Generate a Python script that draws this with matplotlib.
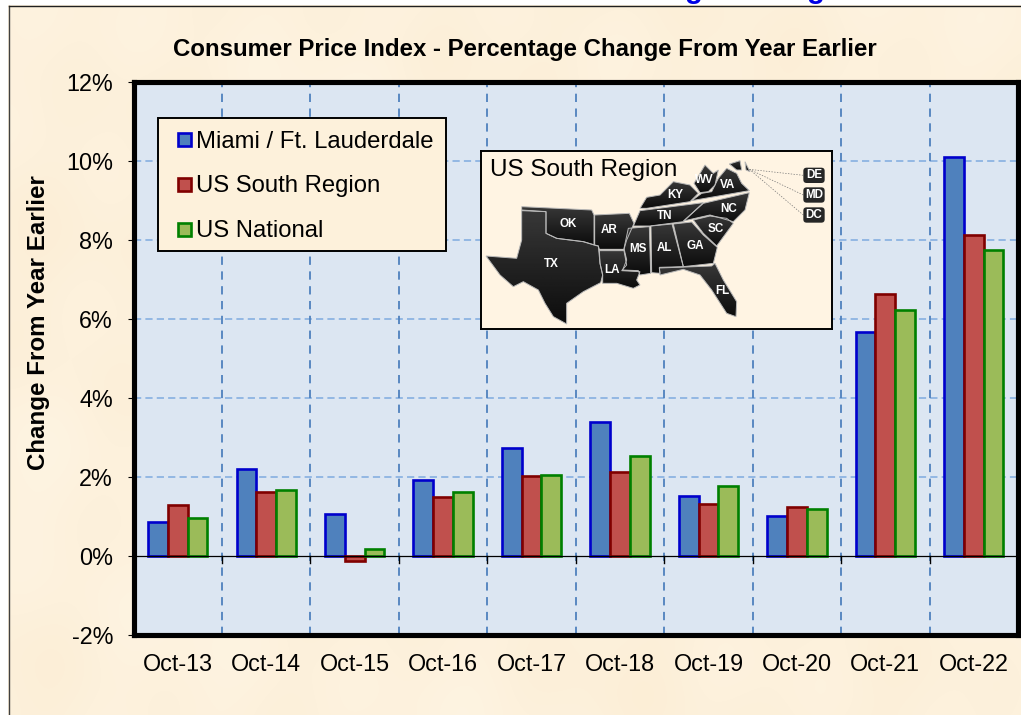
import numpy as np
import matplotlib
matplotlib.use("Agg")
import matplotlib.pyplot as plt
from matplotlib.patches import Polygon, Patch, FancyBboxPatch, Rectangle
from matplotlib.legend_handler import HandlerPatch

plt.rcParams['font.family'] = ['Liberation Sans', 'DejaVu Sans']

categories = ['Oct-13', 'Oct-14', 'Oct-15', 'Oct-16', 'Oct-17', 'Oct-18', 'Oct-19', 'Oct-20', 'Oct-21', 'Oct-22']
miami = [0.85, 2.2, 1.07, 1.93, 2.73, 3.4, 1.52, 1.02, 5.68, 10.1]
south = [1.3, 1.62, -0.12, 1.5, 2.02, 2.13, 1.32, 1.25, 6.63, 8.12]
national = [0.96, 1.66, 0.17, 1.63, 2.04, 2.52, 1.76, 1.18, 6.22, 7.75]
series_names = ['Miami / Ft. Lauderdale', 'US South Region', 'US National']
y_ticks = [-2, 0, 2, 4, 6, 8, 10, 12]
title_text = 'Consumer Price Index - Percentage Change From Year Earlier'
y_title = 'Change From Year Earlier'
map_title = 'US South Region'

W, H = 1021, 715
fig = plt.figure(figsize=(W / 100, H / 100), dpi=100, facecolor='white')

# parchment page background
yy, xx = np.mgrid[0:H, 0:W]
tone = (np.sin(xx / 47.0 + 1.0) * np.sin(yy / 61.0) + 0.7 * np.sin(xx / 19.0 + yy / 83.0)
        + 0.6 * np.sin(yy / 23.0 - xx / 71.0 + 2.0) + 0.8 * np.sin(xx / 131.0 - yy / 97.0)) / 3.0
page = np.dstack([253 + 1.0 * tone, 241 + 3 * tone, 220 + 6 * tone]) / 255.0
page = np.clip(page, 0, 1)
page[:5, :, :] = 1
page[:, :8, :] = 1
bg = fig.add_axes([0, 0, 1, 1], zorder=0)
bg.imshow(page, extent=(0, W, H, 0), aspect='auto', interpolation='bilinear')
bg.plot([8.5, 8.5], [5.5, H], color='#404040', lw=1.0)
bg.plot([8.5, W], [5.5, 5.5], color='#202020', lw=1.0)
bg.set_xlim(0, W)
bg.set_ylim(H, 0)
bg.axis('off')
# descenders of the heading that is cut off by the top of the picture
for gx in (694, 816):
    bg.text(gx, -2, 'g', color='#0000E6', fontsize=21, fontweight='bold', ha='center',
            va='baseline', clip_on=True)

L, R, T, B = 133.6, 1018.0, 82.0, 635.0
ax = fig.add_axes([L / W, 1 - B / H, (R - L) / W, (B - T) / H], zorder=2, facecolor='#DCE6F2')
x = np.arange(len(categories))
bw = 0.2235
styles = [('#4F81BD', '#0000CC'), ('#C0504D', '#800000'), ('#9BBB59', '#008000')]
all_series = [miami, south, national]
handles = []
for i, (vals, (fc, ec), nm) in enumerate(zip(all_series, styles, series_names)):
    ax.bar(x + (i - 1) * bw, vals, width=bw, facecolor=fc, edgecolor=ec, linewidth=1.9, zorder=3)
    handles.append(Patch(facecolor=fc, edgecolor=ec, linewidth=1.9, label=nm))

ax.set_xlim(-0.5, len(categories) - 0.5)
ax.set_ylim(-2, 12)
ax.set_yticks(y_ticks)
ax.set_yticklabels([f'{v}%' for v in y_ticks], fontsize=16.8)
ax.set_xticks(x)
ax.set_xticklabels(categories, fontsize=16.8)
ax.tick_params(axis='x', length=0, pad=13)
ax.tick_params(axis='y', length=4, width=0.8, pad=10.8, direction='out')
for v in y_ticks[2:-1]:
    ax.axhline(v, color='#8DB4E2', lw=1.3, ls=(0, (4, 2.3)), zorder=1)
for b in x[:-1] + 0.5:
    ax.axvline(b, color='#4F81BD', lw=1.3, ls=(0, (4.6, 3.6)), zorder=1)
    ax.plot([b, b], [-0.17, 0], color='black', lw=1.0, zorder=2)
ax.axhline(0, color='black', lw=0.9, zorder=4)
for s in ax.spines.values():
    s.set_linewidth(3.7)
    s.set_color('black')
    s.set_zorder(6)

fig.text(525 / W, 1 - 49.5 / H, title_text, fontsize=17.3, fontweight='bold', ha='center', va='center')
fig.text(38 / W, 1 - 323 / H, y_title, fontsize=17.4, fontweight='bold', rotation=90, ha='center', va='center')


def swatch(legend, orig_handle, xdescent, ydescent, width, height, fontsize):
    size = 9.4
    return Rectangle((width - size - xdescent, (height - size) / 2 - ydescent), size, size)


# legend box drawn separately so its padding can differ from the entries' spacing
ax.add_patch(Rectangle((158 / W, 1 - 251 / H), 288 / W, 133 / H, transform=fig.transFigure, clip_on=False,
                       facecolor='#FDF1DB', edgecolor='black', linewidth=1.4, zorder=4.9))
leg = ax.legend(handles=handles, labels=series_names, loc='upper left',
                bbox_to_anchor=((158 - L) / (R - L), 1 - (120 - T) / (B - T)), borderaxespad=0,
                fontsize=17.2, frameon=False, handlelength=0.94, handleheight=0.72, handletextpad=0.21,
                labelspacing=0.96, borderpad=0.44,
                handler_map={Patch: HandlerPatch(patch_func=swatch)})
leg.set_zorder(5)

# inset map of the region (decorative sketch in inset pixel space)
states = {
    'TX': [(155, 212), (228, 215), (228, 280), (260, 295), (300, 300), (340, 305), (385, 318), (390, 370), (398, 405),
           (392, 428), (340, 455), (290, 490), (290, 552), (250, 530), (225, 490), (205, 450), (160, 425), (130, 440),
           (90, 405), (48, 348), (140, 355), (155, 300)],
    'OK': [(155, 200), (365, 210), (372, 225), (372, 315), (340, 305), (300, 300), (260, 295), (228, 280), (228, 215), (155, 210)],
    'AR': [(374, 225), (478, 220), (492, 250), (470, 300), (462, 328), (388, 328), (385, 318), (374, 316)],
    'LA': [(388, 332), (462, 332), (470, 375), (455, 392), (510, 395), (500, 420), (510, 435), (490, 445), (440, 430),
           (398, 430), (398, 405), (390, 370)],
    'MS': [(475, 265), (538, 260), (542, 400), (510, 405), (505, 392), (458, 390), (470, 360), (462, 325)],
    'AL': [(543, 258), (606, 252), (640, 380), (568, 382), (570, 400), (545, 398)],
    'GA': [(610, 252), (665, 246), (700, 285), (742, 322), (730, 370), (640, 380)],
    'SC': [(670, 240), (720, 228), (770, 235), (790, 250), (740, 318), (700, 280)],
    'NC': [(640, 243), (700, 190), (838, 158), (825, 210), (790, 245), (720, 225)],
    'TN': [(490, 258), (510, 212), (700, 188), (640, 245), (540, 258)],
    'KY': [(510, 205), (530, 172), (570, 165), (610, 125), (660, 135), (685, 160), (660, 185), (530, 205)],
    'WV': [(672, 130), (705, 75), (730, 100), (745, 90), (735, 135), (715, 155), (690, 158)],
    'VA': [(665, 182), (695, 160), (725, 155), (745, 115), (770, 85), (800, 100), (815, 130), (838, 152)],
    'MD': [(778, 72), (810, 62), (815, 90), (800, 90)],
    'DE': [(825, 65), (840, 95), (828, 90)],
    'FL': [(568, 384), (725, 378), (735, 370), (760, 420), (800, 485), (798, 530), (770, 520), (725, 450), (690, 405),
           (640, 388), (570, 405)],
}
state_labels = {'TX': (245, 373), 'OK': (295, 252), 'AR': (417, 269), 'LA': (425, 391), 'MS': (505, 326), 'AL': (583, 323),
                'GA': (675, 317), 'SC': (738, 266), 'NC': (775, 206), 'TN': (584, 228), 'KY': (615, 165), 'WV': (704, 121),
                'VA': (773, 134), 'FL': (756, 454)}
callouts = {'DE': (1032, 106), 'MD': (1032, 165), 'DC': (1032, 225)}
x0, x1, y0, y1 = 32, 1087, 567, 33
inset = fig.add_axes([(470 + x0 / 3) / W, 1 - (140 + y0 / 3) / H, ((x1 - x0) / 3) / W, ((y0 - y1) / 3) / H],
                     zorder=7, facecolor='#FFF4E3')
grad = np.linspace(0.22, 0.05, 64).reshape(-1, 1)
for name, pts in states.items():
    arr = np.array(pts, float)
    poly = Polygon(arr, closed=True, facecolor='none', edgecolor='#b8b8b8', lw=0.7, zorder=3)
    inset.add_patch(poly)
    im = inset.imshow(grad, cmap='gray', vmin=0, vmax=1, aspect='auto', zorder=2,
                      extent=(arr[:, 0].min(), arr[:, 0].max(), arr[:, 1].max(), arr[:, 1].min()))
    im.set_clip_path(poly)
for name, (lx, ly) in state_labels.items():
    inset.text(lx, ly, name, color='white', fontsize=8.4, fontweight='bold', ha='center', va='center', zorder=4)
for name, (cx, cy) in callouts.items():
    inset.add_patch(FancyBboxPatch((cx - 26, cy - 17), 52, 34, boxstyle='round,pad=6,rounding_size=10',
                                   facecolor='#262626', edgecolor='none', zorder=3))
    inset.text(cx, cy, name, color='white', fontsize=8.4, fontweight='bold', ha='center', va='center', zorder=4)
    inset.plot([838, cx - 32], [88, cy], color='#777777', lw=0.5, ls=(0, (2, 2)), zorder=2)
inset.text(60, 89, map_title, fontsize=17.5, ha='left', va='center', color='black', zorder=5)
inset.set_xlim(x0, x1)
inset.set_ylim(y0, y1)
inset.set_xticks([])
inset.set_yticks([])
for s in inset.spines.values():
    s.set_linewidth(1.4)
    s.set_color('black')

fig.savefig('out.png', dpi=100, facecolor='white')
